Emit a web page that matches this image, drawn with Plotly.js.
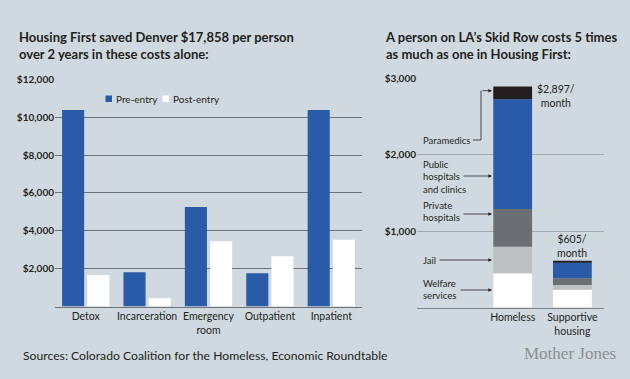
<!DOCTYPE html>
<html>
<head>
<meta charset="utf-8">
<script src="https://cdn.plot.ly/plotly-3.0.1.min.js"></script>
<style>
html,body{margin:0;padding:0;background:#d0d9df;}
#chart{width:630px;height:379px;}
</style>
</head>
<body>
<div id="chart"></div>
<script>
// ---- Data: Denver (left) ----
const denverCategories = ["Detox", "Incarceration", "Emergency<br>room", "Outpatient", "Inpatient"];
const preEntry  = [10380, 1810, 5250, 1760, 10380];
const postEntry = [1660, 430, 3450, 2650, 3520];
const denverTicks = [2000, 4000, 6000, 8000, 10000, 12000];
const denverSeriesNames = ["Pre-entry", "Post-entry"];

// ---- Data: LA Skid Row (right), monthly cost ----
const laCategories = ["Homeless", "Supportive<br>housing"];
const laComponents = ["Welfare services", "Jail", "Private hospitals", "Public hospitals and clinics", "Paramedics"];
const welfare    = [448, 233];
const jail       = [349, 62];
const privateHosp= [494, 88];
const publicHosp = [1438, 209];
const paramedics = [168, 13];
const laTotals   = ["$2,897/", "$605/"];
const laTicks = [1000, 2000, 3000];

const BG = '#d0d9df';
const INK = '#231f20';
const BLUE = '#2a5ba8';
const W = 630, H = 379;
const px = x => x / W;
const py = y => 1 - y / H;
const money = v => '$' + v.toLocaleString('en-US');

const laSeries = [welfare, jail, privateHosp, publicHosp, paramedics];
const laColors = ['#ffffff', '#bdbfc1', '#6d6e71', BLUE, INK];

const traces = [
  {type:'bar', name:denverSeriesNames[0], x:denverCategories, y:preEntry, xaxis:'x', yaxis:'y',
   marker:{color:BLUE}, width:0.36, offset:-0.385, hoverinfo:'x+y'},
  {type:'bar', name:denverSeriesNames[1], x:denverCategories, y:postEntry, xaxis:'x', yaxis:'y',
   marker:{color:'#ffffff'}, width:0.36, offset:0.025, hoverinfo:'x+y'}
];
// stacked bars built from the component arrays (cumulative bases)
let cum = laCategories.map(() => 0);
laSeries.forEach((vals, i) => {
  traces.push({type:'bar', name:laComponents[i], x:laCategories, y:vals, base:cum.slice(),
    xaxis:'x2', yaxis:'y2', width:0.65, offset:-0.325,
    marker:{color:laColors[i]}, hoverinfo:'name+y'});
  cum = cum.map((c, j) => c + vals[j]);
});

const annotations = [];
function txt(text, x, y, opts) {
  annotations.push(Object.assign({text:text, x:px(x), y:py(y), xref:'paper', yref:'paper',
    showarrow:false, xanchor:'left', yanchor:'middle', align:'left',
    font:{family:'Lato, sans-serif', size:9.5, color:INK}}, opts || {}));
}
const titleFont = {family:'Lato, sans-serif', size:13, color:INK, weight:700};
txt('Housing First saved Denver $17,858 per person<br>over 2 years in these costs alone:', 17, 45, {font:titleFont});
txt('A person on LA\u2019s Skid Row costs 5 times<br>as much as one in Housing First:', 383, 45, {font:titleFont});

// custom legend text (markers drawn as shapes below)
const legFont = {family:'Lato, sans-serif', size:10, color:INK};
txt(denverSeriesNames[0], 114, 98.7, {font:legFont});
txt(denverSeriesNames[1], 171, 98.7, {font:legFont});

// right chart labels
txt('Paramedics', 421, 140);
txt('Public<br>hospitals<br>and clinics', 421, 176.7);
txt('Private<br>hospitals', 421, 211.7);
txt('Jail', 421, 260);
txt('Welfare<br>services', 421, 289.7);

// totals
const totFont = {family:'Lato, sans-serif', size:10.5, color:INK};
txt(laTotals[0] + '<br>month', 556, 96.2, {xanchor:'center', align:'center', font:totFont});
txt(laTotals[1] + '<br>month', 572, 246.2, {xanchor:'center', align:'center', font:totFont});

// leader arrows
function arrow(x0, x1, y) {
  annotations.push({text:'', x:px(x1), y:py(y), xref:'paper', yref:'paper', showarrow:true,
    ax:x0 - x1, ay:0, arrowhead:2, arrowsize:0.9, arrowwidth:0.8, arrowcolor:INK, standoff:0});
}
arrow(481, 492, 90.7);
arrow(462, 492, 176);
arrow(462, 492, 214);
arrow(438, 492, 260);
arrow(459, 492, 290);

// footer
txt('Sources: Colorado Coalition for the Homeless, Economic Roundtable', 21, 355.7,
    {font:{family:'Lato, sans-serif', size:12.2, color:INK}});
txt('Mother Jones', 570, 353, {xanchor:'center',
    font:{family:'Liberation Serif, serif', size:17, color:'#8c8f92'}});

const shapes = [
  {type:'path', xref:'paper', yref:'paper',
   path:`M ${px(473)},${py(140)} L ${px(481)},${py(140)} L ${px(481)},${py(90.7)}`,
   line:{color:INK, width:0.8}},
  {type:'rect', xref:'paper', yref:'paper', x0:px(105.5), x1:px(112), y0:py(102), y1:py(95.5),
   fillcolor:BLUE, line:{width:0}},
  {type:'rect', xref:'paper', yref:'paper', x0:px(162.5), x1:px(169), y0:py(102), y1:py(95.5),
   fillcolor:'#ffffff', line:{width:0}}
];

const tickFont = {family:'Lato, sans-serif', size:10, color:INK, weight:700};
const catFont = {family:'Lato, sans-serif', size:10.5, color:INK};

const layout = {
  width:W, height:H,
  margin:{l:0, r:0, t:0, b:0},
  paper_bgcolor:BG, plot_bgcolor:BG,
  barmode:'group',
  showlegend:false,
  xaxis:{domain:[px(55), px(362)], type:'category', showgrid:false, zeroline:false,
         showline:true, linecolor:'#6e7174', linewidth:1, ticks:'', tickfont:catFont,
         fixedrange:true, range:[-0.5, 4.5]},
  yaxis:{domain:[py(306.5), py(79.3)], range:[0, 12000], tickmode:'array', tickvals:denverTicks,
         ticktext:denverTicks.map(money), showgrid:true, gridcolor:'#6e7174', gridwidth:1,
         zeroline:false, showline:false, ticks:'', tickfont:tickFont, fixedrange:true},
  xaxis2:{domain:[px(417), px(604)], type:'category', showgrid:false, zeroline:false,
          showline:true, linecolor:'#7d8285', linewidth:1, ticks:'', tickfont:catFont,
          fixedrange:true, range:[-1.603, 1.53], anchor:'y2'},
  yaxis2:{domain:[py(307.5), py(78.7)], range:[0, 3000], tickmode:'array', tickvals:laTicks,
          ticktext:laTicks.map(money), showgrid:true, gridcolor:'#a4a9ad', gridwidth:1,
          zeroline:false, showline:false, ticks:'', tickfont:tickFont, fixedrange:true,
          anchor:'x2'},
  annotations:annotations,
  shapes:shapes
};

Plotly.newPlot('chart', traces, layout, {displayModeBar:false});
</script>
</body>
</html>
